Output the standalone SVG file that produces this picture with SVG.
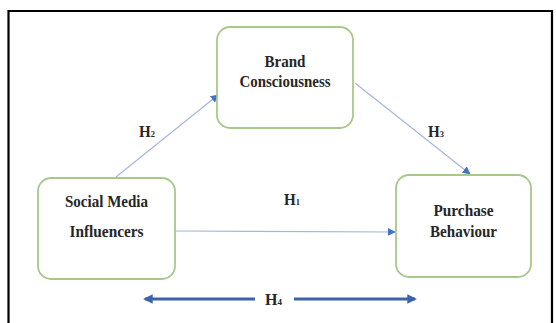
<svg xmlns="http://www.w3.org/2000/svg" width="556" height="323" viewBox="0 0 556 323">
  <style>
    .box { fill: #ffffff; stroke: #a6c98a; stroke-width: 1.8; }
    .lbl { font-family: "Liberation Serif", "Times New Roman", serif; font-weight: bold; font-size: 16px; fill: #262626; text-anchor: middle; }
    .h { font-family: "Liberation Serif", "Times New Roman", serif; font-weight: bold; font-size: 16px; fill: #262626; }
    .sub { font-size: 9px; }
    .link { stroke: #a3b3e2; stroke-width: 1.1; fill: none; }
    .bi { stroke: #3c62a8; stroke-width: 3.2; fill: none; }
  </style>
  <defs>
    <marker id="tip" viewBox="0 0 10 10" refX="9" refY="5" markerWidth="8" markerHeight="8" markerUnits="userSpaceOnUse" orient="auto">
      <path d="M0,0 L10,5 L0,10 z" fill="#4472c4"/>
    </marker>
    <marker id="bigTip" viewBox="0 0 10 10" refX="8" refY="5" markerWidth="3" markerHeight="3" orient="auto">
      <path d="M0,0 L10,5 L0,10 z" fill="#3c62a8"/>
    </marker>
  </defs>

  <rect width="556" height="323" fill="#ffffff"/>
  <!-- frame -->
  <path d="M8.5,323 V11 H552 V323" fill="none" stroke="#000000" stroke-width="2.2"/>

  <g id="connectors">
    <line class="link" x1="116" y1="177" x2="218" y2="95" marker-end="url(#tip)"/>
    <line class="link" x1="355" y1="83" x2="470" y2="174" marker-end="url(#tip)"/>
    <line class="link" x1="175" y1="231" x2="395" y2="232" marker-end="url(#tip)"/>
    <line class="bi" x1="255" y1="299" x2="145" y2="299" marker-end="url(#bigTip)"/>
    <line class="bi" x1="294" y1="299" x2="415" y2="299" marker-end="url(#bigTip)"/>
    <text class="h" x="139" y="137" textLength="16" lengthAdjust="spacingAndGlyphs">H<tspan class="sub">2</tspan></text>
    <text class="h" x="428" y="137" textLength="16" lengthAdjust="spacingAndGlyphs">H<tspan class="sub">3</tspan></text>
    <text class="h" x="284" y="205" textLength="16" lengthAdjust="spacingAndGlyphs">H<tspan class="sub">1</tspan></text>
    <text class="h" x="265" y="305" textLength="17" lengthAdjust="spacingAndGlyphs">H<tspan class="sub">4</tspan></text>
  </g>

  <g id="brand">
    <rect class="box" x="217" y="27" width="136" height="101" rx="13"/>
    <text class="lbl" x="285" y="67" textLength="41" lengthAdjust="spacingAndGlyphs">Brand</text>
    <text class="lbl" x="285" y="87" textLength="91" lengthAdjust="spacingAndGlyphs">Consciousness</text>
  </g>

  <g id="influencers">
    <rect class="box" x="38" y="178" width="137" height="101" rx="13"/>
    <text class="lbl" x="106.5" y="207" textLength="83" lengthAdjust="spacingAndGlyphs">Social Media</text>
    <text class="lbl" x="106.5" y="237" textLength="74" lengthAdjust="spacingAndGlyphs">Influencers</text>
  </g>

  <g id="purchase">
    <rect class="box" x="396" y="175" width="135" height="102" rx="13"/>
    <text class="lbl" x="463.5" y="216" textLength="60" lengthAdjust="spacingAndGlyphs">Purchase</text>
    <text class="lbl" x="463.5" y="237" textLength="67" lengthAdjust="spacingAndGlyphs">Behaviour</text>
  </g>
</svg>
